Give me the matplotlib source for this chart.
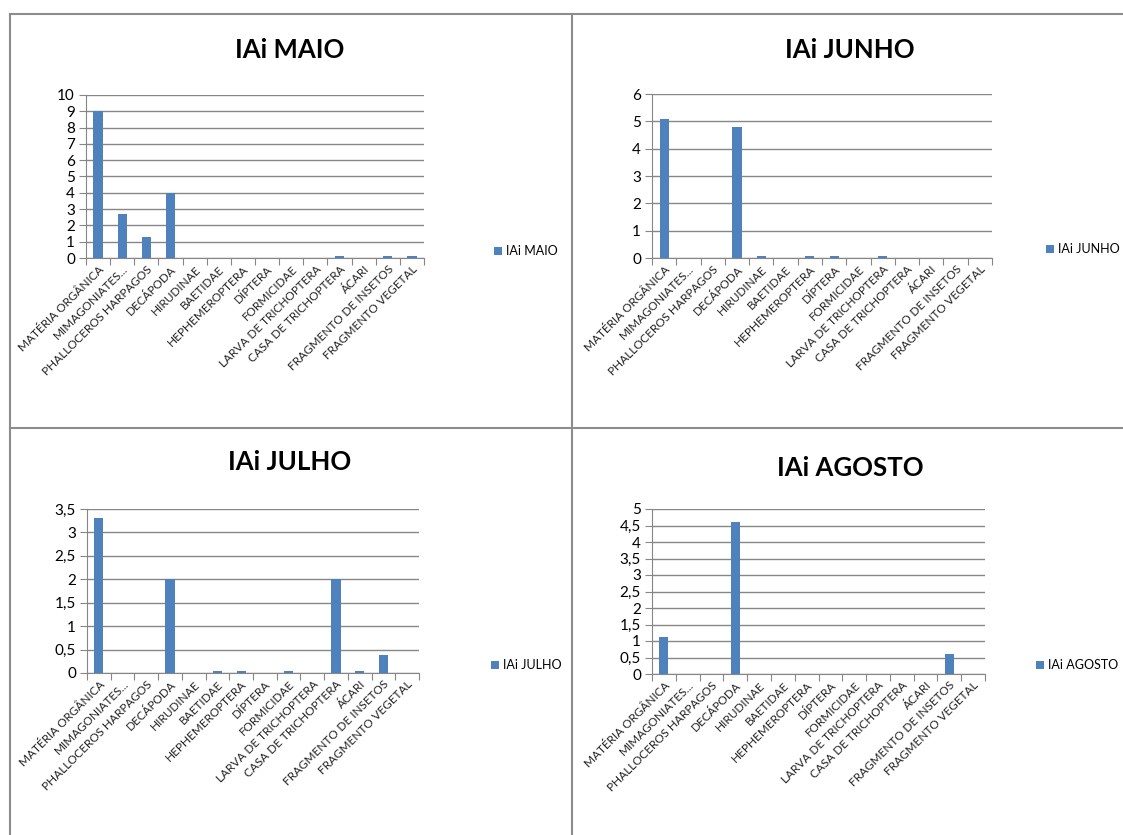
import numpy as np
import matplotlib
matplotlib.use("Agg")
import matplotlib.pyplot as plt
from matplotlib.lines import Line2D
from matplotlib.ticker import FuncFormatter

plt.rcParams['font.family'] = ['Lato', 'DejaVu Sans']

categorias = ["MATÉRIA ORGÂNICA", "MIMAGONIATES...", "PHALLOCEROS HARPAGOS", "DECÁPODA",
              "HIRUDINAE", "BAETIDAE", "HEPHEMEROPTERA", "DÍPTERA", "FORMICIDAE",
              "LARVA DE TRICHOPTERA", "CASA DE TRICHOPTERA", "ÁCARI",
              "FRAGMENTO DE INSETOS", "FRAGMENTO VEGETAL"]

iai_maio = [9, 2.7, 1.3, 4, 0, 0, 0, 0, 0, 0, 0.1, 0, 0.1, 0.1]
iai_junho = [5.1, 0, 0, 4.8, 0.08, 0, 0.08, 0.08, 0, 0.08, 0, 0, 0, 0]
iai_julho = [3.3, 0, 0, 2, 0, 0.04, 0.04, 0, 0.04, 0, 2, 0.04, 0.38, 0]
iai_agosto = [1.12, 0, 0, 4.6, 0, 0, 0, 0, 0, 0, 0, 0, 0.62, 0]

W, H = 1123, 835
AZUL = "#4F81BD"
CINZA = "#868686"

fig = plt.figure(figsize=(W / 100, H / 100), dpi=100)


def px_axes(x0, y0, x1, y1):
    return fig.add_axes([x0 / W, 1 - y1 / H, (x1 - x0) / W, (y1 - y0) / H])


def virgula(v, pos):
    return ("%g" % v).replace(".", ",")


def grafico(caixa, valores, titulo, ymax, passo, titulo_xy, legenda_xy):
    ax = px_axes(*caixa)
    x = np.arange(len(categorias))
    ax.bar(x, valores, width=0.38, color=AZUL, label=titulo, zorder=3)
    ax.set_xlim(-0.5, len(categorias) - 0.5)
    ax.set_ylim(0, ymax)
    ax.set_yticks(np.arange(0, ymax + passo / 2, passo))
    ax.yaxis.set_major_formatter(FuncFormatter(virgula))
    ax.yaxis.grid(True, color=CINZA, linewidth=1, zorder=0)
    # marcas entre categorias, rótulos no centro
    ax.set_xticks(np.arange(-0.5, len(categorias)), minor=False)
    ax.set_xticklabels([])
    ax.set_xticks(x, minor=True)
    ax.set_xticklabels(categorias, minor=True, rotation=45, ha="right", va="top",
                       rotation_mode="anchor", fontsize=8.5, color="#222222")
    ax.tick_params(axis="x", which="major", length=5, color=CINZA, direction="out")
    ax.tick_params(axis="x", which="minor", length=0, pad=4)
    ax.tick_params(axis="y", length=5, color=CINZA, labelsize=11, pad=3)
    for lado in ("top", "right"):
        ax.spines[lado].set_visible(False)
    for lado in ("left", "bottom"):
        ax.spines[lado].set_color(CINZA)
    fig.text(titulo_xy[0] / W, 1 - titulo_xy[1] / H, titulo, ha="center", va="center",
             fontsize=18.5, fontweight="bold")
    ax.legend(loc="center left", bbox_to_anchor=(legenda_xy[0] / W, 1 - legenda_xy[1] / H),
              bbox_transform=fig.transFigure, frameon=False, fontsize=9,
              handlelength=0.6, handleheight=0.6, handletextpad=0.35, borderpad=0)
    return ax


grafico((86, 95, 424, 258), iai_maio, "IAi MAIO", 10, 1, (290, 50), (488, 251))
grafico((652, 94, 992, 258), iai_junho, "IAi JUNHO", 6, 1, (850, 50), (1040, 249))
grafico((87, 509, 419, 673), iai_julho, "IAi JULHO", 3.5, 0.5, (290, 462), (485, 665))
grafico((652, 509, 985, 674), iai_agosto, "IAi AGOSTO", 5, 0.5, (850, 468), (1030, 665))

# molduras dos quatro painéis
moldura = dict(color="#8c8c8c", linewidth=1.5, transform=fig.transFigure)
fig.add_artist(Line2D([10 / W, 1], [1 - 14 / H] * 2, **moldura))
fig.add_artist(Line2D([10 / W] * 2, [1 - 14 / H, 0], **moldura))
fig.add_artist(Line2D([572 / W] * 2, [1 - 14 / H, 0], **moldura))
fig.add_artist(Line2D([10 / W, 1], [1 - 428 / H] * 2, **moldura))

fig.savefig("out.png", dpi=100)
